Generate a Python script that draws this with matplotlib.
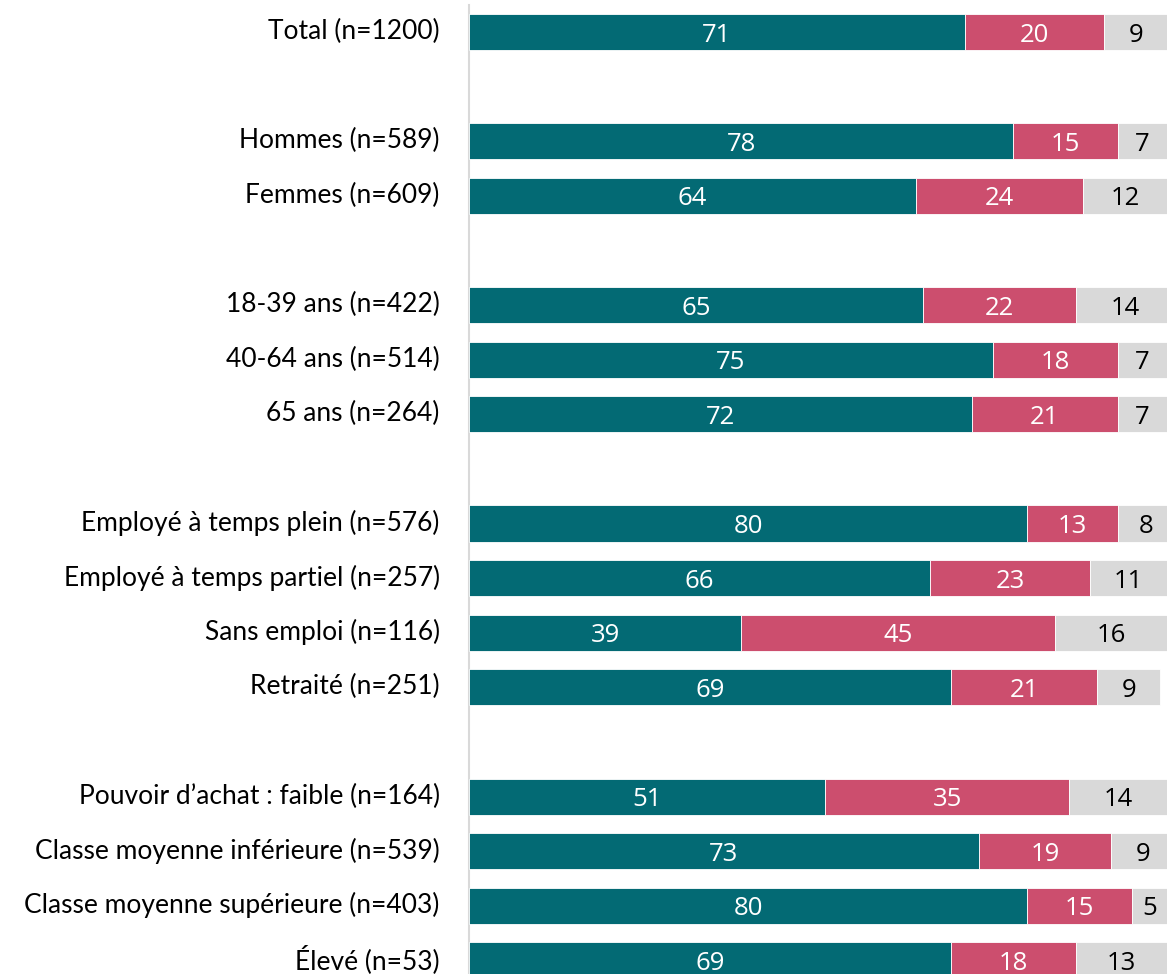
import numpy as np
import matplotlib.pyplot as plt
import matplotlib.transforms as mtransforms

# ================== Données ==================
labels = [
    "Total (n=1200)",
    "Hommes (n=589)",
    "Femmes (n=609)",
    "18-39 ans (n=422)",
    "40-64 ans (n=514)",
    "65 ans (n=264)",
    "Employé à temps plein (n=576)",
    "Employé à temps partiel (n=257)",
    "Sans emploi (n=116)",
    "Retraité (n=251)",
    "Pouvoir d’achat : faible (n=164)",
    "Classe moyenne inférieure (n=539)",
    "Classe moyenne supérieure (n=403)",
    "Élevé (n=53)",
]
# position des lignes (groupes séparés par une ligne vide)
rows = [0, 2, 3, 5, 6, 7, 9, 10, 11, 12, 14, 15, 16, 17]

oui = [71, 78, 64, 65, 75, 72, 80, 66, 39, 69, 51, 73, 80, 69]
non = [20, 15, 24, 22, 18, 21, 13, 23, 45, 21, 35, 19, 15, 18]
nsp = [9, 7, 12, 14, 7, 7, 8, 11, 16, 9, 14, 9, 5, 13]

colors = ["#036a74", "#cc4e6e", "#d9d9d9"]
text_colors = ["white", "white", "black"]

plt.rcParams["font.family"] = ["Lato", "DejaVu Sans"]

# ================== Figure ==================
fig = plt.figure(figsize=(11.67, 9.74), dpi=100)
ax = fig.add_axes([469 / 1167, 0, 1 - 469 / 1167, 1 - 5 / 974])

left = np.zeros(len(rows))
for vals, col, tcol in zip([oui, non, nsp], colors, text_colors):
    vals = np.array(vals, dtype=float)
    ax.barh(rows, vals, left=left, height=0.66, color=col,
            edgecolor="white", linewidth=0.6)
    for y, l, v in zip(rows, left, vals):
        ax.text(l + v / 2, y, f"{v:.0f}", ha="center", va="center_baseline",
                color=tcol, fontsize=18.5, family=["Open Sans", "DejaVu Sans"])
    left += vals

ax.set_xlim(0, 100)
ax.set_ylim(17.25, -0.495)
ax.set_yticks(rows)
ax.set_yticklabels(labels, fontsize=19)
ax.tick_params(axis="y", length=0, pad=21)
ax.set_xticks([])

# libellés légèrement remontés
shift = mtransforms.ScaledTranslation(0, 3 / 100, fig.dpi_scale_trans)
for lab in ax.get_yticklabels():
    lab.set_transform(lab.get_transform() + shift)

for side in ["top", "right", "bottom"]:
    ax.spines[side].set_visible(False)
ax.spines["left"].set_color("#d9d9d9")
ax.spines["left"].set_linewidth(1.5)
ax.spines["left"].set_zorder(0)

fig.savefig("out.png", dpi=100)
